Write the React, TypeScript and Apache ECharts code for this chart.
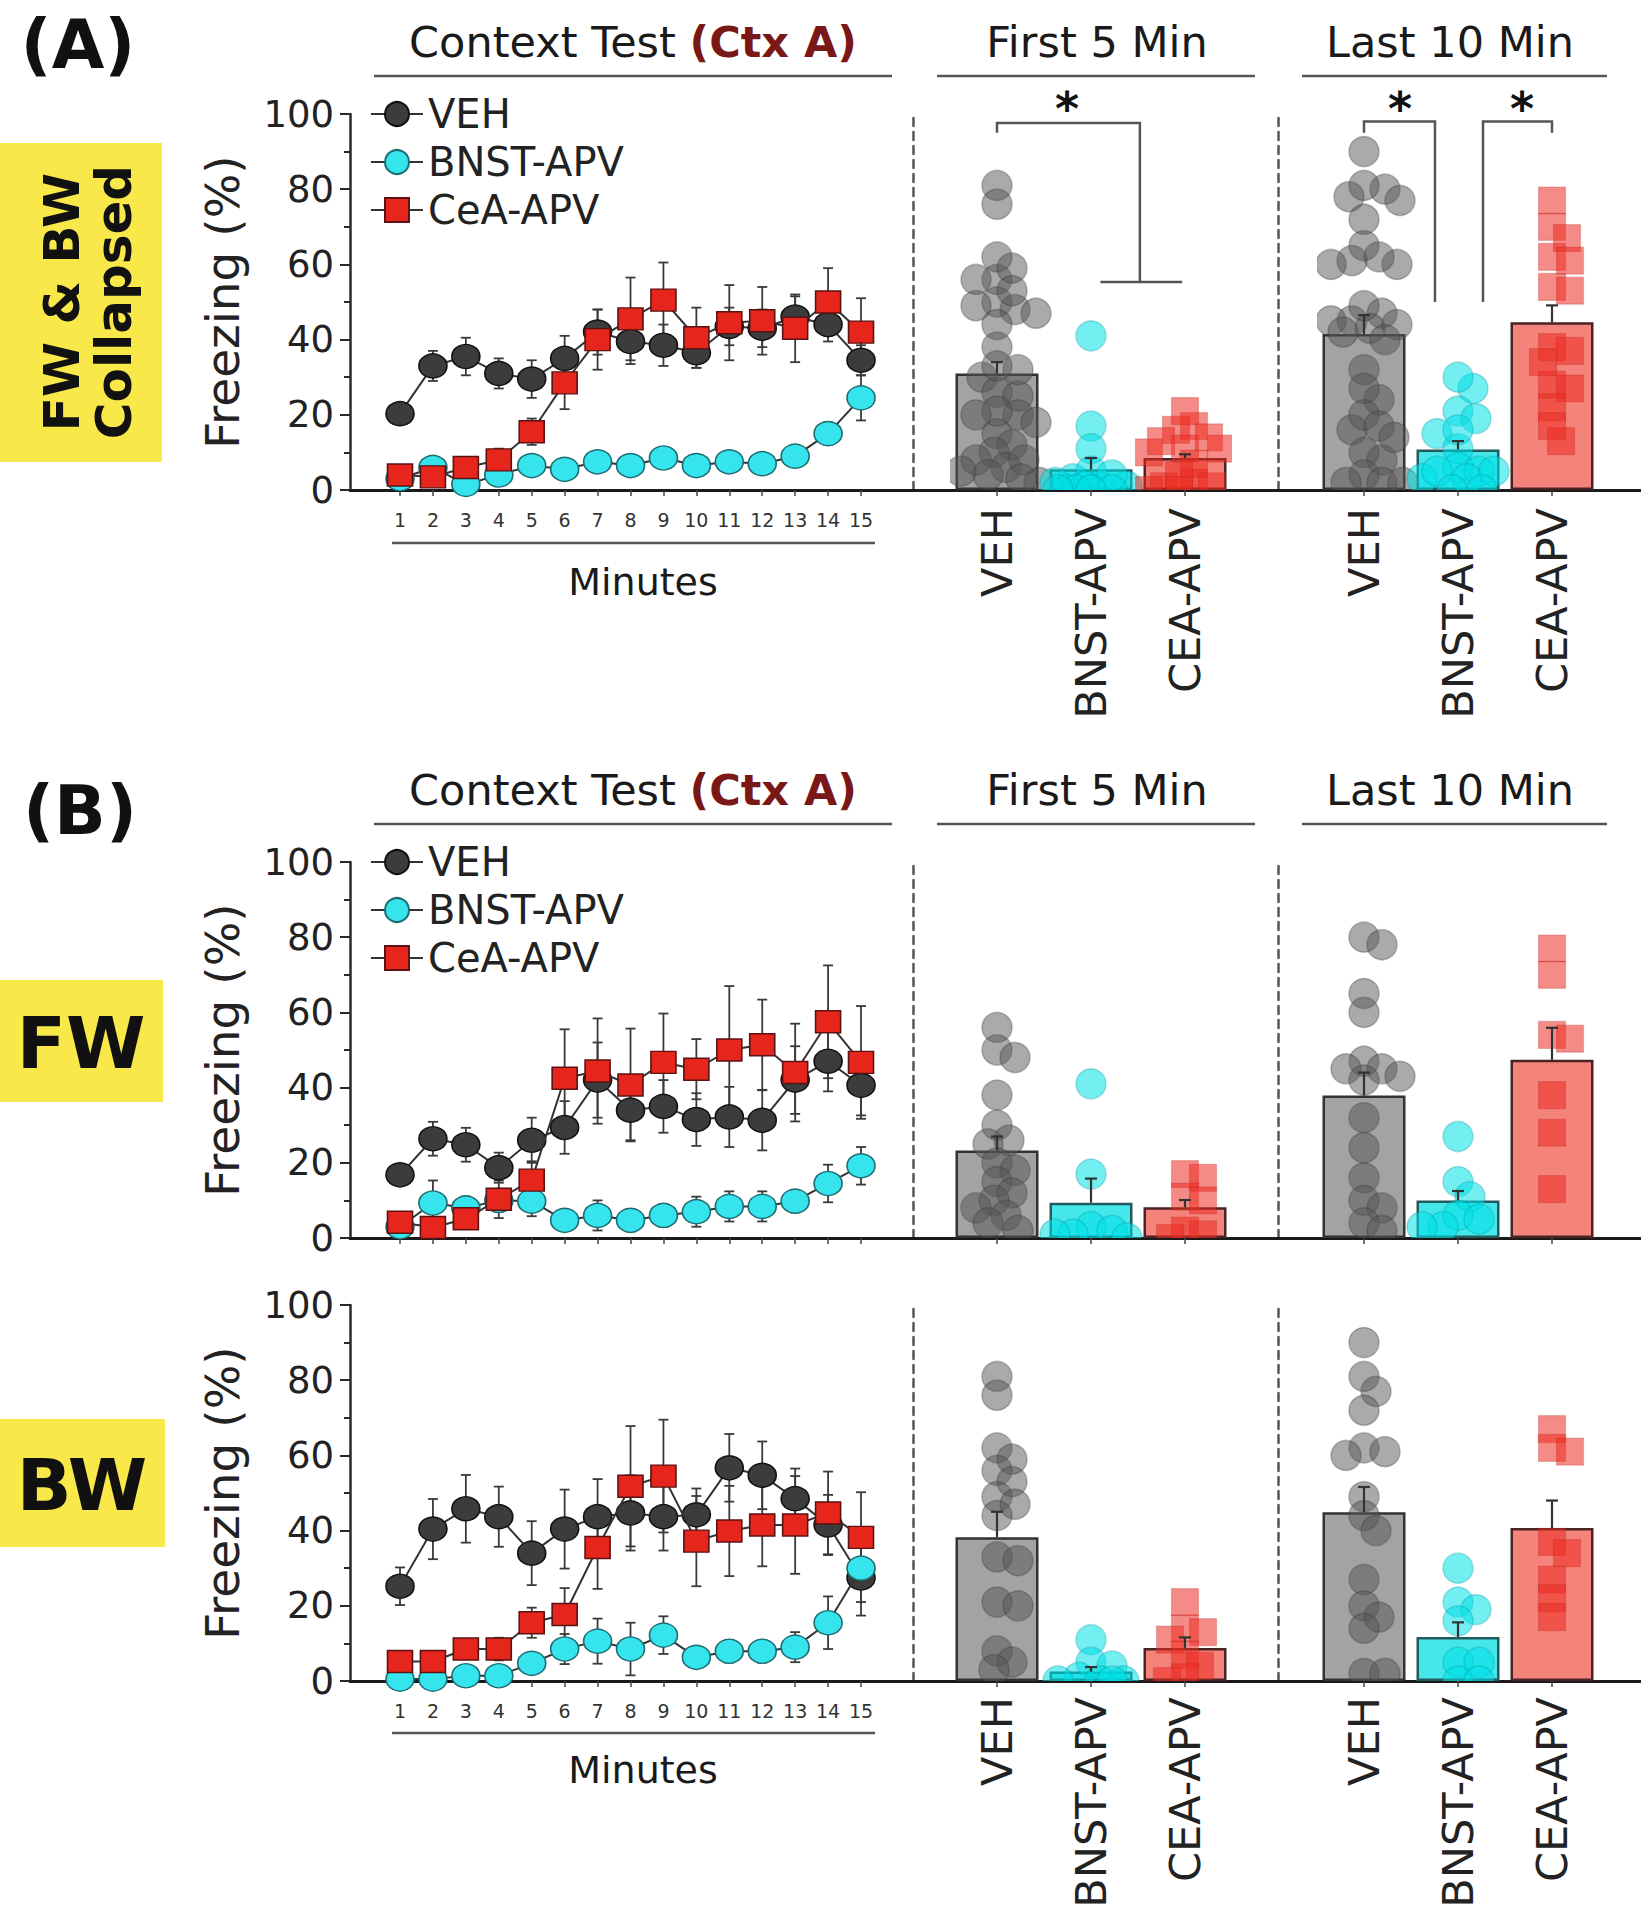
import React, { useEffect, useRef } from "react";
import * as echarts from "echarts";

// ---------------- DATA ----------------
const MINUTES = [1, 2, 3, 4, 5, 6, 7, 8, 9, 10, 11, 12, 13, 14, 15];
const GROUP_NAMES = ["VEH", "BNST-APV", "CeA-APV"];
const BAR_CATEGORIES = ["VEH", "BNST-APV", "CEA-APV"];
const Y_TICKS = [0, 20, 40, 60, 80, 100];

// (A) FW & BW collapsed: minute-by-minute means and SEM
const A_VEH = [20.3, 33, 35.5, 31, 29.5, 35, 42, 39.5, 38.5, 36.5, 43.5, 43, 46, 44, 34.5];
const A_VEH_SEM = [1.5, 4, 5, 4, 5, 6, 6, 6, 5.5, 4, 5, 5, 5.5, 4.5, 4];
const A_BNST = [3, 6, 1.5, 4, 6.5, 5.5, 7.5, 6.5, 8.5, 6.5, 7.5, 7, 9, 15, 24.5];
const A_BNST_SEM = [1, 2, 1.5, 2, 2, 1.5, 2, 1.5, 2, 1.5, 1.5, 1.5, 2, 3, 6];
const A_CEA = [4, 3.5, 6, 8, 15.5, 28.5, 40, 45.5, 50.5, 40.5, 44.5, 45, 43, 50, 42];
const A_CEA_SEM = [1.5, 1.5, 2, 3, 3.5, 7, 8, 11, 10, 8, 10, 9, 9, 9, 9];

// (B) FW
const FW_VEH = [16.8, 26.4, 24.8, 18.7, 26, 29.4, 42, 34, 35, 31.5, 32.2, 31.3, 42, 47, 40.6];
const FW_VEH_SEM = [2, 4.5, 4.5, 4, 6, 7, 10, 8, 7, 7, 8, 8, 9, 8, 8];
const FW_BNST = [3, 9.3, 8, 10, 9.8, 4.7, 6, 4.7, 6, 7, 8.4, 8.4, 9.8, 14.5, 19.2];
const FW_BNST_SEM = [1, 6, 3, 3, 4, 2, 4, 3, 3, 4, 4, 4, 3, 5, 5];
const FW_CEA = [4.2, 2.8, 5.1, 10.3, 15.4, 42.5, 44.4, 40.7, 46.7, 44.9, 50, 51.4, 44, 57.5, 46.7];
const FW_CEA_SEM = [1.5, 1, 2, 5, 5, 13, 14, 15, 13, 8, 17, 12, 13, 15, 15];

// (B) BW
const BW_VEH = [25.2, 40.4, 45.8, 43.7, 34, 40.4, 43.7, 44.7, 43.7, 44.2, 56.7, 54.7, 48.5, 41.5, 27.4];
const BW_VEH_SEM = [5, 8, 9, 8, 8.5, 10.5, 10, 10, 9, 7, 9, 9, 8, 8, 10];
const BW_BNST = [0.5, 0.5, 1.4, 1.4, 4.7, 8.5, 10.6, 8.5, 12.2, 6.3, 7.9, 7.9, 9, 15.5, 30];
const BW_BNST_SEM = [0.5, 0.5, 1, 1, 2, 4, 6, 7, 5, 2, 3, 3, 4, 7, 9];
const BW_CEA = [5.2, 5.2, 8.5, 8.5, 15.5, 17.7, 35.5, 51.8, 54.5, 37.2, 39.9, 41.5, 41.5, 44.7, 38.2];
const BW_CEA_SEM = [1, 1, 2, 3, 4, 7, 11, 16, 15, 12, 12, 11, 13, 11, 12];

// Bar means / SEM  [VEH, BNST-APV, CEA-APV]
const A_FIRST5_MEAN = [31, 5.5, 8.5];
const A_FIRST5_SEM = [3, 3, 1];
const A_LAST10_MEAN = [41.5, 10.8, 44.6];
const A_LAST10_SEM = [5, 2.2, 4.5];
const FW_FIRST5_MEAN = [23.3, 9.4, 8.2];
const FW_FIRST5_SEM = [3.7, 6.4, 1.9];
const FW_LAST10_MEAN = [37.9, 10, 47.4];
const FW_LAST10_SEM = [6.1, 2.5, 8.5];
const BW_FIRST5_MEAN = [38.2, 2.5, 8.8];
const BW_FIRST5_SEM = [6.8, 1.2, 2.8];
const BW_LAST10_MEAN = [44.9, 11.7, 40.7];
const BW_LAST10_SEM = [6.7, 3.9, 7.3];

// Individual animals
const FW_F5_VEH = [56, 50, 48, 38, 30, 26, 25, 20, 18, 15, 12, 10, 8, 6, 4, 2];
const FW_F5_BNST = [41, 17, 3, 2, 1, 1, 0];
const FW_F5_CEA = [17, 16, 11, 10, 2, 1, 0];
const FW_L10_VEH = [80, 78, 65, 60, 47, 45, 45, 43, 42, 32, 24, 16, 10, 8, 4, 2];
const FW_L10_BNST = [27, 15, 11, 6, 5, 3, 3];
const FW_L10_CEA = [77, 70, 54, 53, 38, 28, 13];

const BW_F5_VEH = [81, 76, 62, 59, 56, 53, 49, 47, 44, 33, 32, 21, 20, 8, 5, 3];
const BW_F5_BNST = [11, 5, 4, 1, 0, 0, 0, 0];
const BW_F5_CEA = [21, 14, 13, 11, 7, 4, 1, 0];
const BW_L10_VEH = [90, 81, 77, 72, 62, 61, 60, 49, 44, 40, 27, 20, 17, 14, 2, 2];
const BW_L10_BNST = [30, 21, 19, 16, 5, 5, 0, 0];
const BW_L10_CEA = [67, 62, 61, 37, 34, 27, 22, 17];

const A_F5_VEH = [56, 50, 48, 38, 30, 26, 25, 20, 18, 15, 12, 10, 8, 6, 4, 2, 81, 76, 62, 59, 56, 53, 49, 47, 44, 33, 32, 21, 20, 8, 5, 3];
const A_F5_BNST = [41, 17, 3, 2, 1, 1, 0, 11, 5, 4, 1, 0, 0, 0, 0];
const A_F5_CEA = [17, 16, 11, 10, 2, 1, 0, 21, 14, 13, 11, 7, 4, 1, 0];
const A_L10_VEH = [80, 78, 65, 60, 47, 45, 45, 43, 42, 32, 24, 16, 10, 8, 4, 2, 90, 81, 77, 72, 62, 61, 60, 49, 44, 40, 27, 20, 17, 14, 2, 2];
const A_L10_BNST = [27, 15, 11, 6, 5, 3, 3, 30, 21, 19, 16, 5, 5, 0, 0];
const A_L10_CEA = [77, 70, 54, 53, 38, 28, 13, 67, 62, 61, 37, 34, 27, 22, 17];

// Significance brackets (panel A only), in data units [category, %]
const A_F5_BRACKETS = [
  [[0, 95], [0, 97.6], [1.52, 97.6], [1.52, 55.3]],
  [[1.1, 55.3], [1.97, 55.3]],
];
const A_F5_STARS = [[0.745, 101.2]];
const A_L10_BRACKETS = [
  [[0, 95], [0, 98], [0.755, 98], [0.755, 50]],
  [[1.266, 50], [1.266, 98], [2, 98], [2, 95]],
];
const A_L10_STARS = [[0.383, 101.2], [1.68, 101.2]];

// ---------------- STYLE / LAYOUT ----------------
const W = 1641;
const H = 1920;
const FONT = "'DejaVu Sans', 'Liberation Sans', Arial, sans-serif";
const ROW_TOP = [114, 862, 1305];
const ROW_H = 376;
const YAXIS_X = 350;
const MIN1_X = 400;
const MIN_STEP = 32.93;
const CAT_W = 94;
const F5_LEFT = 950;
const L10_LEFT = 1317;
const DASH_F5 = 913;
const DASH_L10 = 1278;
const PX_PER_UNIT = ROW_H / 100;

const LINE_STYLES = [
  { symbol: "circle", size: [28, 24], fill: "#3c3c3c", border: "#111111" },
  { symbol: "circle", size: [28, 24], fill: "#35e4ec", border: "#1d6d72" },
  { symbol: "rect", size: [25, 22], fill: "#e6261c", border: "#5a1212" },
];
const BAR_FILL = ["#a3a3a3", "#45e7ea", "#f4847b"];
const BAR_BORDER = ["#333333", "#245a5c", "#4a2424"];
const DOT_FILL = ["rgba(85,85,85,0.5)", "rgba(0,224,230,0.55)", "rgba(236,44,34,0.55)"];
const DOT_STROKE = ["rgba(60,60,60,0.35)", "rgba(0,150,160,0.3)", "rgba(180,30,25,0.25)"];
const DOT_SYMBOL = ["circle", "circle", "rect"];
const DOT_SIZE = [30, 30, 27];
const DOT_SPREAD = [44, 38, 36];

function swarm(vals: number[], diam: number, maxOff: number): number[] {
  const order = vals.map((_, i) => i).sort((a, b) => vals[b] - vals[a]);
  const placed: { x: number; y: number }[] = [];
  const out = new Array(vals.length).fill(0);
  const minD = diam * 0.62;
  const step = 3;
  const nSteps = Math.floor(maxOff / step) * 2;
  for (const i of order) {
    const y = vals[i] * PX_PER_UNIT;
    let best = 0;
    let bestScore = -Infinity;
    for (let k = 0; k <= nSteps; k++) {
      const off = (k % 2 === 1 ? 1 : -1) * Math.ceil(k / 2) * step;
      let md = Infinity;
      for (const p of placed) md = Math.min(md, Math.hypot(p.x - off, p.y - y));
      if (md >= minD) {
        best = off;
        break;
      }
      if (md > bestScore) {
        bestScore = md;
        best = off;
      }
    }
    placed.push({ x: best, y });
    out[i] = best;
  }
  return out;
}

function buildOption() {
  const rows = [
    {
      lines: [[A_VEH, A_VEH_SEM], [A_BNST, A_BNST_SEM], [A_CEA, A_CEA_SEM]],
      f5: [A_FIRST5_MEAN, A_FIRST5_SEM, [A_F5_VEH, A_F5_BNST, A_F5_CEA]],
      l10: [A_LAST10_MEAN, A_LAST10_SEM, [A_L10_VEH, A_L10_BNST, A_L10_CEA]],
      labels: true,
      brackets: [A_F5_BRACKETS, A_L10_BRACKETS],
      stars: [A_F5_STARS, A_L10_STARS],
    },
    {
      lines: [[FW_VEH, FW_VEH_SEM], [FW_BNST, FW_BNST_SEM], [FW_CEA, FW_CEA_SEM]],
      f5: [FW_FIRST5_MEAN, FW_FIRST5_SEM, [FW_F5_VEH, FW_F5_BNST, FW_F5_CEA]],
      l10: [FW_LAST10_MEAN, FW_LAST10_SEM, [FW_L10_VEH, FW_L10_BNST, FW_L10_CEA]],
      labels: false,
      brackets: null,
      stars: null,
    },
    {
      lines: [[BW_VEH, BW_VEH_SEM], [BW_BNST, BW_BNST_SEM], [BW_CEA, BW_CEA_SEM]],
      f5: [BW_FIRST5_MEAN, BW_FIRST5_SEM, [BW_F5_VEH, BW_F5_BNST, BW_F5_CEA]],
      l10: [BW_LAST10_MEAN, BW_LAST10_SEM, [BW_L10_VEH, BW_L10_BNST, BW_L10_CEA]],
      labels: true,
      brackets: null,
      stars: null,
    },
  ];

  const grid: any[] = [];
  const xAxis: any[] = [];
  const yAxis: any[] = [];
  const series: any[] = [];

  const xMin = 1 - (MIN1_X - YAXIS_X) / MIN_STEP;
  const xMax = xMin + (W - YAXIS_X) / MIN_STEP;

  rows.forEach((row, r) => {
    const top = ROW_TOP[r];
    const gLine = grid.length;
    grid.push({ left: YAXIS_X, top, width: W - YAXIS_X, height: ROW_H, outerBoundsMode: "none" });
    xAxis.push({
      gridIndex: gLine,
      type: "value",
      min: xMin,
      max: xMax,
      axisLine: { show: true, onZero: false, lineStyle: { color: "#1a1a1a", width: 3 } },
      axisTick: { show: true, customValues: MINUTES, length: 6, lineStyle: { color: "#444", width: 1.5 } },
      axisLabel: {
        show: row.labels,
        customValues: MINUTES,
        fontSize: 19,
        color: "#333",
        margin: 20,
        fontFamily: FONT,
      },
      splitLine: { show: false },
    });
    yAxis.push({
      gridIndex: gLine,
      type: "value",
      min: 0,
      max: 100,
      interval: 20,
      axisLine: { show: true, onZero: false, lineStyle: { color: "#2a2a2a", width: 2.5 } },
      axisTick: { show: true, length: 10, lineStyle: { color: "#2a2a2a", width: 2 } },
      minorTick: { show: true, splitNumber: 2, length: 6, lineStyle: { color: "#2a2a2a", width: 2 } },
      axisLabel: {
        fontSize: 37,
        color: "#222",
        margin: 16,
        fontFamily: FONT,
        formatter: (v: number) => (Y_TICKS.includes(v) ? String(v) : ""),
      },
      splitLine: { show: false },
      minorSplitLine: { show: false },
      name: "Freezing (%)",
      nameLocation: "middle",
      nameGap: 104,
      nameRotate: 90,
      nameTextStyle: { fontSize: 47, color: "#222", fontFamily: FONT },
    });

    // error bars for line chart
    row.lines.forEach(([means, sems], gi) => {
      series.push({
        type: "custom",
        name: "err-" + GROUP_NAMES[gi],
        xAxisIndex: gLine,
        yAxisIndex: gLine,
        z: 3,
        clip: false,
        data: MINUTES.map((m, i) => [m, means[i], sems[i]]),
        renderItem: (_p: any, api: any) => {
          const x = api.value(0);
          const y = api.value(1);
          const e = api.value(2);
          const pt = api.coord([x, y + e]);
          const pb = api.coord([x, Math.max(0, y - e)]);
          const st = { stroke: "#3a3a3a", lineWidth: 1.8 };
          const cw = 5;
          return {
            type: "group",
            children: [
              { type: "line", shape: { x1: pt[0], y1: pt[1], x2: pb[0], y2: pb[1] }, style: st },
              { type: "line", shape: { x1: pt[0] - cw, y1: pt[1], x2: pt[0] + cw, y2: pt[1] }, style: st },
              { type: "line", shape: { x1: pb[0] - cw, y1: pb[1], x2: pb[0] + cw, y2: pb[1] }, style: st },
            ],
          };
        },
      });
    });
    row.lines.forEach(([means], gi) => {
      const ls = LINE_STYLES[gi];
      series.push({
        type: "line",
        name: GROUP_NAMES[gi],
        xAxisIndex: gLine,
        yAxisIndex: gLine,
        z: 4 + gi * 0.1,
        clip: false,
        data: MINUTES.map((m, i) => [m, means[i]]),
        symbol: ls.symbol,
        symbolSize: ls.size,
        lineStyle: { color: "#333", width: 2 },
        itemStyle: { color: ls.fill, borderColor: ls.border, borderWidth: 1.5 },
        emphasis: { disabled: true },
      });
    });

    // bar panels
    const panels: any[] = [
      [F5_LEFT, DASH_F5, row.f5, row.brackets ? row.brackets[0] : null, row.stars ? row.stars[0] : null],
      [L10_LEFT, DASH_L10, row.l10, row.brackets ? row.brackets[1] : null, row.stars ? row.stars[1] : null],
    ];
    panels.forEach(([left, dashX, pdata, brackets, stars]) => {
      const g = grid.length;
      grid.push({ left, top, width: 3 * CAT_W, height: ROW_H, outerBoundsMode: "none" });
      xAxis.push({
        gridIndex: g,
        type: "category",
        data: BAR_CATEGORIES,
        boundaryGap: true,
        axisLine: { show: false },
        axisTick: { show: true, alignWithLabel: true, length: 6, lineStyle: { color: "#444", width: 1.5 } },
        axisLabel: {
          show: row.labels,
          rotate: 90,
          fontSize: 43,
          color: "#222",
          margin: r === 2 ? 16 : 18,
          fontFamily: FONT,
        },
        splitLine: { show: false },
      });
      yAxis.push({
        gridIndex: g,
        type: "value",
        min: 0,
        max: 100,
        offset: left - dashX,
        axisLine: { show: true, lineStyle: { type: [8, 6], color: "#555", width: 2.5 } },
        axisTick: { show: false },
        axisLabel: { show: false },
        splitLine: { show: false },
      });
      const [means, sems, pts] = pdata;
      series.push({
        type: "bar",
        name: "bar",
        xAxisIndex: g,
        yAxisIndex: g,
        barWidth: 83,
        z: 2,
        data: means.map((v: number, i: number) => ({
          value: v,
          itemStyle: { color: BAR_FILL[i], borderColor: BAR_BORDER[i], borderWidth: 2.5 },
        })),
        emphasis: { disabled: true },
      });
      pts.forEach((vals: number[], ci: number) => {
        const offs = swarm(vals, DOT_SIZE[ci], DOT_SPREAD[ci]);
        const size = DOT_SIZE[ci];
        const fill = DOT_FILL[ci];
        const stroke = DOT_STROKE[ci];
        const isRect = DOT_SYMBOL[ci] === "rect";
        series.push({
          type: "custom",
          name: "pts-" + BAR_CATEGORIES[ci],
          xAxisIndex: g,
          yAxisIndex: g,
          z: 3,
          clip: true,
          data: vals.map((v, k) => [ci, v, offs[k]]),
          renderItem: (_p: any, api: any) => {
            const c = api.coord([api.value(0), api.value(1)]);
            const cx = c[0] + api.value(2);
            const cy = c[1];
            if (isRect) {
              return {
                type: "rect",
                shape: { x: cx - size / 2, y: cy - size / 2, width: size, height: size },
                style: { fill, stroke, lineWidth: 1.2 },
              };
            }
            return {
              type: "circle",
              shape: { cx, cy, r: size / 2 },
              style: { fill, stroke, lineWidth: 1.5 },
            };
          },
        });
      });
      series.push({
        type: "custom",
        name: "bar-err",
        xAxisIndex: g,
        yAxisIndex: g,
        z: 4,
        clip: false,
        data: means.map((v: number, i: number) => [i, v, sems[i]]),
        renderItem: (_p: any, api: any) => {
          const x = api.value(0);
          const y = api.value(1);
          const e = api.value(2);
          const p0 = api.coord([x, y]);
          const p1 = api.coord([x, y + e]);
          const st = { stroke: "#333", lineWidth: 2.2 };
          return {
            type: "group",
            children: [
              { type: "line", shape: { x1: p0[0], y1: p0[1], x2: p1[0], y2: p1[1] }, style: st },
              { type: "line", shape: { x1: p1[0] - 6, y1: p1[1], x2: p1[0] + 6, y2: p1[1] }, style: st },
            ],
          };
        },
      });
      if (brackets) {
        const bdata = brackets.map((_: any, i: number) => [i]);
        series.push({
          type: "custom",
          name: "brackets",
          xAxisIndex: g,
          yAxisIndex: g,
          z: 6,
          clip: false,
          data: bdata,
          renderItem: (params: any, api: any) => {
            const pts = brackets[params.dataIndex].map(([cx, cy]: number[]) => {
              const i0 = Math.floor(cx);
              const i1 = Math.min(2, i0 + 1);
              const a = api.coord([i0, cy]);
              const b = api.coord([i1, cy]);
              const f = i1 === i0 ? 0 : cx - i0;
              return [a[0] + (b[0] - a[0]) * f, a[1]];
            });
            return {
              type: "polyline",
              shape: { points: pts },
              style: { stroke: "#555", lineWidth: 2.5, fill: "none" },
            };
          },
        });
        series.push({
          type: "custom",
          name: "stars",
          xAxisIndex: g,
          yAxisIndex: g,
          z: 6,
          clip: false,
          data: stars.map((_: any, i: number) => [i]),
          renderItem: (params: any, api: any) => {
            const [cx, cy] = stars[params.dataIndex];
            const i0 = Math.floor(cx);
            const i1 = Math.min(2, i0 + 1);
            const a = api.coord([i0, cy]);
            const b = api.coord([i1, cy]);
            const f = cx - i0;
            return {
              type: "text",
              x: a[0] + (b[0] - a[0]) * f,
              y: a[1],
              style: {
                text: "*",
                fontSize: 46,
                fontWeight: "bold",
                fontFamily: FONT,
                fill: "#111",
                align: "center",
                verticalAlign: "middle",
                textAlign: "center",
                textVerticalAlign: "middle",
              },
            };
          },
        });
      }
    });
  });

  const legendBase = {
    orient: "vertical",
    left: 370,
    itemWidth: 52,
    itemHeight: 30,
    itemGap: 8,
    padding: 0,
    selectedMode: false,
    data: GROUP_NAMES,
    textStyle: { fontSize: 40, color: "#222", fontFamily: FONT },
  };

  const txt = (x: number, y: number, text: string, size: number, opts: any = {}) => ({
    type: "text",
    x,
    y,
    rotation: opts.rotation || 0,
    style: {
      text,
      fontSize: size,
      fontFamily: FONT,
      fontWeight: opts.bold ? "bold" : "normal",
      fill: opts.color || "#1a1a1a",
      align: "center",
      verticalAlign: "middle",
      textAlign: "center",
      textVerticalAlign: "middle",
      lineHeight: opts.lineHeight,
    },
  });
  const hline = (x1: number, x2: number, y: number) => ({
    type: "line",
    shape: { x1, y1: y, x2, y2: y },
    style: { stroke: "#555", lineWidth: 2.5 },
  });
  const titleRich = (x: number, y: number) => ({
    type: "text",
    x,
    y,
    style: {
      text: "{a|Context Test }{b|(Ctx A)}",
      align: "center",
      verticalAlign: "middle",
      textAlign: "center",
      textVerticalAlign: "middle",
      rich: {
        a: { fontSize: 43, fontFamily: FONT, fill: "#1a1a1a", color: "#1a1a1a" },
        b: { fontSize: 43, fontFamily: FONT, fontWeight: "bold", fill: "#7a1717", color: "#7a1717" },
      },
    },
  });

  const graphic: any[] = [
    // panel letters
    txt(78, 44, "(A)", 68, { bold: true, color: "#111" }),
    txt(80, 810, "(B)", 68, { bold: true, color: "#111" }),
    // yellow labels
    { type: "rect", shape: { x: 0, y: 143, width: 162, height: 319 }, style: { fill: "#f8e84a" } },
    txt(88, 302, "FW & BW\nCollapsed", 50, { bold: true, rotation: Math.PI / 2, lineHeight: 52, color: "#111" }),
    { type: "rect", shape: { x: 0, y: 980, width: 163, height: 122 }, style: { fill: "#f8e84a" } },
    txt(81, 1043, "FW", 72, { bold: true, color: "#111" }),
    { type: "rect", shape: { x: 0, y: 1419, width: 165, height: 128 }, style: { fill: "#f8e84a" } },
    txt(82, 1485, "BW", 72, { bold: true, color: "#111" }),
    // section titles A
    titleRich(633, 42),
    hline(374, 892, 76),
    txt(1097, 42, "First 5 Min", 43),
    hline(937, 1255, 76),
    txt(1450, 42, "Last 10 Min", 43),
    hline(1302, 1607, 76),
    // section titles B
    titleRich(633, 790),
    hline(374, 892, 824),
    txt(1097, 790, "First 5 Min", 43),
    hline(937, 1255, 824),
    txt(1450, 790, "Last 10 Min", 43),
    hline(1302, 1607, 824),
    // minutes labels
    hline(392, 875, 543),
    txt(643, 582, "Minutes", 38),
    hline(392, 875, 1733),
    txt(643, 1770, "Minutes", 38),
  ];

  return {
    animation: false,
    backgroundColor: "#ffffff",
    grid,
    xAxis,
    yAxis,
    legend: [
      { ...legendBase, top: 94 },
      { ...legendBase, top: 842 },
    ],
    series,
    graphic,
  };
}

export default function App() {
  const ref = useRef<HTMLDivElement>(null);
  useEffect(() => {
    if (!ref.current) return;
    const chart = echarts.init(ref.current, null, { renderer: "svg" });
    chart.setOption(buildOption() as any);
    return () => chart.dispose();
  }, []);
  return (
    <div
      ref={ref}
      style={{ position: "absolute", left: 0, top: 0, width: W, height: H, background: "#fff" }}
    />
  );
}
